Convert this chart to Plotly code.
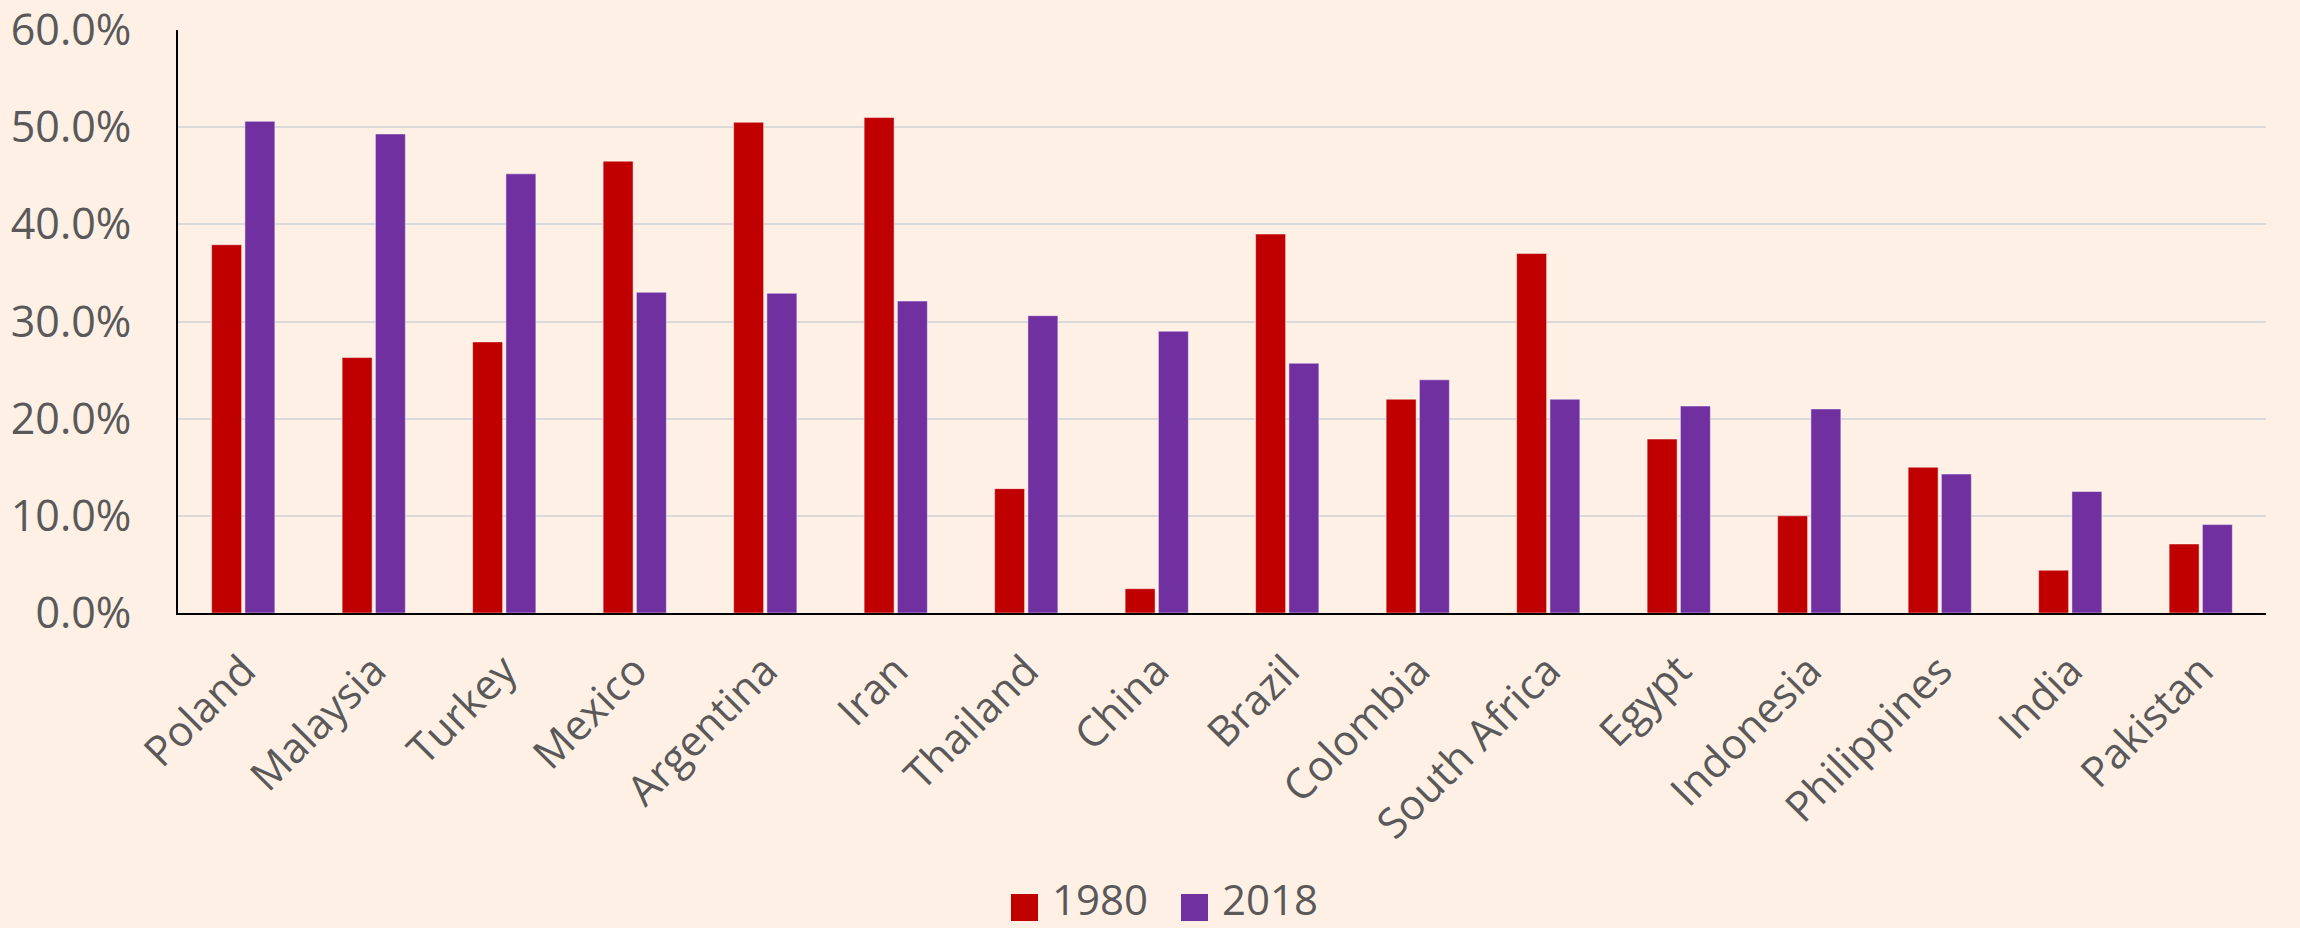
import plotly.graph_objects as go

countries = ["Poland", "Malaysia", "Turkey", "Mexico", "Argentina", "Iran", "Thailand", "China",
             "Brazil", "Colombia", "South Africa", "Egypt", "Indonesia", "Philippines", "India", "Pakistan"]
values_1980 = [0.379, 0.263, 0.279, 0.465, 0.505, 0.510, 0.128, 0.025,
               0.390, 0.220, 0.370, 0.179, 0.100, 0.150, 0.044, 0.071]
values_2018 = [0.506, 0.493, 0.452, 0.330, 0.329, 0.321, 0.306, 0.290,
               0.257, 0.240, 0.220, 0.213, 0.210, 0.143, 0.125, 0.091]
y_ticks = [0.0, 0.1, 0.2, 0.3, 0.4, 0.5, 0.6]
series_names = ["1980", "2018"]
series_colors = ["#C00000", "#7030A0"]

BG = "#FFF0E5"
TXT = "#595959"
FONT = "Open Sans"
FS_Y = 43
FS_X = 42
FS_LEG = 42

W, H = 2300, 928
L, R, T, B = 178, 34, 30, 315
pw, ph = W - L - R, H - T - B

fig = go.Figure()
for name, vals, col in zip(series_names, [values_1980, values_2018], series_colors):
    fig.add_trace(go.Bar(name=name, x=countries, y=vals, marker_color=col,
                         marker_line=dict(color="rgba(255,255,255,0.45)", width=1),
                         showlegend=False))

# manual legend (large square swatches like the reference)
def px_x(p):
    return (p - L) / pw

def px_y(p):
    return (H - B - p) / ph

legend_items = [(1011, 1050), (1181, 1220)]
for (sx, tx), name, col in zip(legend_items, series_names, series_colors):
    fig.add_shape(type="rect", xref="paper", yref="paper",
                  x0=px_x(sx), x1=px_x(sx + 27), y0=px_y(921), y1=px_y(894),
                  fillcolor=col, line=dict(width=0))
    fig.add_annotation(xref="paper", yref="paper", x=px_x(tx), y=px_y(898),
                       text=name, showarrow=False, xanchor="left", yanchor="middle",
                       font=dict(family=FONT, size=FS_LEG, color=TXT))

fig.update_layout(
    width=W, height=H,
    paper_bgcolor=BG, plot_bgcolor=BG,
    margin=dict(l=L, r=R, t=T, b=B, autoexpand=False),
    barmode="group", bargap=0.49, bargroupgap=0.1,
    font=dict(family=FONT, color=TXT, size=FS_X),
    showlegend=False,
    xaxis=dict(tickangle=-45, tickfont=dict(size=FS_X, color=TXT), showline=True,
               linecolor="black", linewidth=2, ticks="", showgrid=False, automargin=False,
               ticklabelstandoff=14),
    yaxis=dict(range=[0, 0.6], tickvals=y_ticks, tickformat=".1%",
               tickfont=dict(size=FS_Y, color=TXT), showgrid=True, gridcolor="#D9D9D9",
               gridwidth=2, showline=True, linecolor="black", linewidth=2,
               zeroline=False, ticks="", ticklabelstandoff=36, automargin=False,
               ticklabeloverflow="allow"),
)

fig.write_html("out.html", config={"displayModeBar": False},
               post_script="document.body.style.margin='0';document.body.style.background='#FFF0E5';")
